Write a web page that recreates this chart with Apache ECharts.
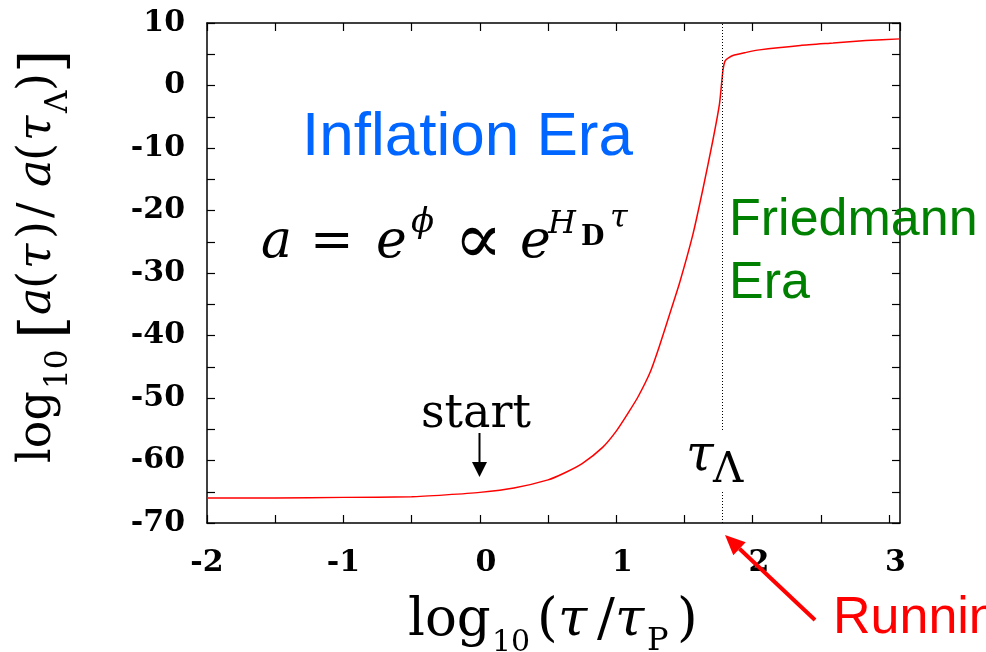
<!DOCTYPE html>
<html><head><meta charset="utf-8">
<script src="https://cdn.jsdelivr.net/npm/echarts@6/dist/echarts.min.js"></script>
<style>html,body{margin:0;padding:0;background:#fff}#c{width:986px;height:652px}</style>
</head><body><div id="c"></div>
<script>
// ---- data ----
const xValues = [-2, -1.5, -1, -0.5, -0.25, 0, 0.25, 0.5, 0.62, 0.75, 0.9, 1.0, 1.09, 1.16, 1.25, 1.318, 1.4, 1.464, 1.561, 1.635, 1.708, 1.757, 1.782, 1.80, 1.855, 1.953, 2.05, 2.35, 2.59, 2.83, 3.08];
const yValues = [-66.0, -66.0, -65.9, -65.8, -65.5, -65.1, -64.4, -63.1, -62.0, -60.5, -57.9, -55.3, -52.3, -49.8, -45.8, -41.6, -36.0, -31.6, -23.9, -16.6, -8.8, -2.9, 2.4, 4.0, 4.8, 5.3, 5.7, 6.4, 6.8, 7.2, 7.46];
const xTickLabels = [-2, -1, 0, 1, 2, 3];
const yTickLabels = [10, 0, -10, -20, -30, -40, -50, -60, -70];
const tauLambda = 1.785;

const chart = echarts.init(document.getElementById('c'), null, {renderer: 'canvas'});

const meas = document.createElement('canvas').getContext('2d');
function txt(s, x, baseY, size, opt) {
  opt = opt || {};
  const family = opt.family || 'DejaVu Serif';
  const fstyle = opt.italic ? 'italic' : 'normal';
  const weight = opt.bold ? 'bold' : 'normal';
  meas.font = fstyle + ' ' + weight + ' ' + size + 'px "' + family + '"';
  meas.textBaseline = 'middle';
  const off = meas.measureText('x').actualBoundingBoxDescent;
  return {
    type: 'text', x: x, y: baseY - off, z: 100,
    style: {
      text: s, fontFamily: family, fontSize: size, fontStyle: fstyle, fontWeight: weight,
      fill: opt.color || '#000', align: 'left', verticalAlign: 'middle'
    }
  };
}

const tickFont = {fontFamily: 'DejaVu Serif', fontWeight: 'bold', fontSize: 30, color: '#000'};
const axisLineStyle = {color: '#000', width: 1.5};
const tickStyle = {show: true, inside: true, length: 8, lineStyle: {color: '#000', width: 1.2}};

function xFmt(v) {
  const n = Math.round(v);
  if (Math.abs(v - n) > 1e-6 || xTickLabels.indexOf(n) < 0) return '';
  return n < 0 ? String(n) : '{h|-}' + n;
}
function yFmt(v) {
  const n = Math.round(v);
  if (Math.abs(v - n) > 1e-6 || yTickLabels.indexOf(n) < 0) return '';
  return String(n);
}

const xAxisBase = {type: 'value', min: -2, max: 3.08, interval: 0.5, splitLine: {show: false},
  axisLine: {show: true, onZero: false, lineStyle: axisLineStyle}, axisTick: tickStyle};
const yAxisBase = {type: 'value', min: -70, max: 10, interval: 5, splitLine: {show: false},
  axisLine: {show: true, onZero: false, lineStyle: axisLineStyle}, axisTick: tickStyle};

// annotations
const yTitle = {
  type: 'group', x: 50, y: 465, rotation: Math.PI / 2,
  children: [
    txt('log', 2, 0, 46),
    txt('10', 76, 17, 31),
    txt('[', 126, 12, 60),
    txt('a', 150, 0, 46, {italic: true}),
    txt('(', 176, 0, 46),
    txt('τ', 196, 0, 46, {italic: true}),
    txt(')', 226, 0, 46),
    txt('/', 247, 0, 46),
    txt('a', 278, 0, 46, {italic: true}),
    txt('(', 304, 0, 46),
    txt('τ', 324, 0, 46, {italic: true}),
    txt('Λ', 352, 17, 31),
    txt(')', 374, 0, 46),
    txt(']', 392, 12, 60)
  ]
};

const graphics = [
  yTitle,
  // x-axis title
  txt('log', 408, 635, 53),
  txt('10', 492, 651, 30),
  txt('(', 537, 635, 53),
  txt('τ', 558, 635, 53, {italic: true}),
  txt('/', 597, 635, 53),
  txt('τ', 615, 635, 53, {italic: true}),
  txt('P', 647, 650, 32),
  txt(')', 677, 635, 53),
  // eras
  txt('Inflation Era', 302, 155, 62, {family: 'Liberation Sans', color: '#0066ff'}),
  txt('Friedmann', 729, 235, 52, {family: 'Liberation Sans', color: '#008000'}),
  txt('Era', 729, 298, 52, {family: 'Liberation Sans', color: '#008000'}),
  txt('Running', 833, 633, 52, {family: 'Liberation Sans', color: '#ff0000'}),
  // equation
  txt('a', 261, 257, 52, {italic: true}),
  txt('=', 310, 257, 52),
  txt('e', 376, 257, 52, {italic: true}),
  txt('ϕ', 411, 232, 34, {italic: true}),
  txt('∝', 454, 263, 72),
  txt('e', 520, 257, 52, {italic: true}),
  txt('H', 548, 233, 32, {italic: true}),
  txt('D', 581, 245, 27, {bold: true}),
  txt('τ', 610, 227, 32, {italic: true}),
  // start
  txt('start', 421, 427, 46),
  {type: 'line', z: 100, shape: {x1: 479.5, y1: 433, x2: 479.5, y2: 464}, style: {stroke: '#000', lineWidth: 2}},
  {type: 'polygon', z: 100, shape: {points: [[472, 462], [487, 462], [479.5, 477]]}, style: {fill: '#000'}},
  // tau Lambda label with white backing
  {type: 'rect', z: 90, shape: {x: 714, y: 432, width: 20, height: 58}, style: {fill: '#fff'}},
  txt('τ', 686, 470, 50, {italic: true}),
  txt('Λ', 713, 482, 42),
  // red arrow
  {type: 'line', z: 100, shape: {x1: 815, y1: 620, x2: 739.5, y2: 548.7}, style: {stroke: '#ff0000', lineWidth: 4}},
  {type: 'polygon', z: 100, shape: {points: [[725, 535], [745.7, 542.2], [733.3, 555.2]]}, style: {fill: '#ff0000'}}
];

const option = {
  animation: false,
  backgroundColor: '#fff',
  grid: {left: 207, right: 86, top: 23, bottom: 129, containLabel: false, outerBoundsMode: 'none'},
  xAxis: [
    Object.assign({}, xAxisBase, {position: 'bottom',
      axisLabel: Object.assign({show: true, margin: 25, formatter: xFmt, showMaxLabel: false,
        rich: {h: {color: 'rgba(0,0,0,0)', fontFamily: 'DejaVu Serif', fontWeight: 'bold', fontSize: 30}}}, tickFont)}),
    Object.assign({}, xAxisBase, {position: 'top', axisLabel: {show: false}})
  ],
  yAxis: [
    Object.assign({}, yAxisBase, {position: 'left',
      axisLabel: Object.assign({show: true, margin: 22, formatter: yFmt}, tickFont)}),
    Object.assign({}, yAxisBase, {position: 'right', axisLabel: {show: false}})
  ],
  series: [{
    type: 'line',
    xAxisIndex: 0, yAxisIndex: 0,
    data: xValues.map((x, i) => [x, yValues[i]]),
    showSymbol: false, symbol: 'none',
    smooth: 0.2,
    lineStyle: {color: '#ff0000', width: 1.5},
    clip: true,
    markLine: {
      silent: true, symbol: ['none', 'none'], label: {show: false},
      lineStyle: {color: '#000', type: [1, 2], width: 1},
      data: [{xAxis: tauLambda}]
    }
  }],
  graphic: graphics
};
chart.setOption(option);
</script>
</body></html>
